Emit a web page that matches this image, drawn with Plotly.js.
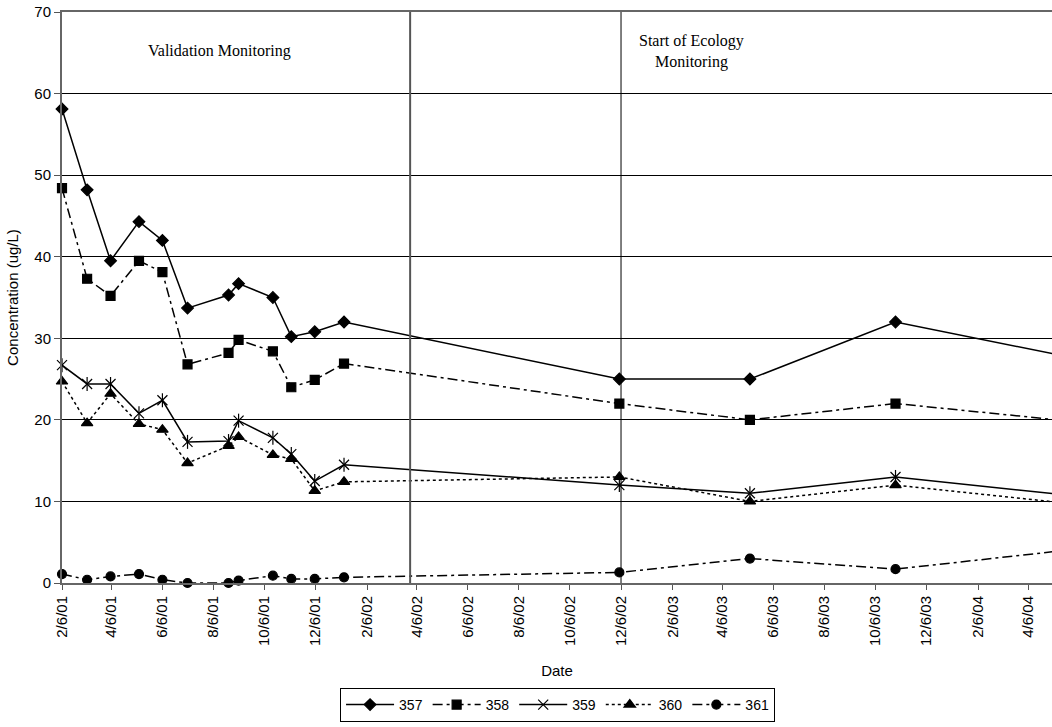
<!DOCTYPE html>
<html>
<head>
<meta charset="utf-8">
<script src="https://cdn.plot.ly/plotly-3.0.1.min.js"></script>
<style>
  html, body { margin: 0; padding: 0; background: #fff; }
  #chart { width: 1052px; height: 727px; }
</style>
</head>
<body>
<div id="chart"></div>
<script>
// Sampling dates (the last one lies just past the right edge of the axis)
const dates = ['2001-02-06','2001-03-08','2001-04-05','2001-05-09','2001-06-06','2001-07-06',
               '2001-08-24','2001-09-05','2001-10-16','2001-11-07','2001-12-05','2002-01-09',
               '2002-12-04','2003-05-09','2003-10-30','2004-05-20'];

const s357 = [58.1, 48.2, 39.5, 44.3, 42.0, 33.7, 35.3, 36.7, 35.0, 30.2, 30.8, 32.0, 25, 25, 32, 27.8];
const s358 = [48.4, 37.3, 35.2, 39.5, 38.1, 26.8, 28.2, 29.8, 28.4, 24.0, 24.9, 26.9, 22, 20, 22, 19.9];
const s359 = [26.7, 24.4, 24.4, 20.8, 22.4, 17.3, 17.4, 19.9, 17.8, 15.8, 12.5, 14.5, 12, 11, 13, 10.8];
const s360 = [24.7, 19.6, 23.2, 19.5, 18.8, 14.7, 16.8, 17.9, 15.7, 15.2, 11.3, 12.4, 13, 10, 12, 9.8];
const s361 = [1.1, 0.4, 0.8, 1.1, 0.4, 0.0, 0.0, 0.3, 0.9, 0.5, 0.5, 0.7, 1.3, 3.0, 1.7, 4.0];

const seriesNames = ['357', '358', '359', '360', '361'];

// Event markers
const eventDates = ['2002-03-29', '2002-12-06'];
const eventLabels = ['Validation Monitoring', 'Start of Ecology<br>Monitoring'];
const eventLabelX = ['2001-08-13', '2003-02-28'];

const SANS = 'Liberation Sans, Arial, sans-serif';
const SERIF = 'Liberation Serif, Times New Roman, serif';

function tr(name, y, dash, symbol, msize) {
  return {
    type: 'scatter', mode: 'lines+markers', name: name,
    x: dates, y: y, cliponaxis: false,
    line: { color: '#000', width: 1.5, dash: dash },
    marker: { symbol: symbol, size: msize, color: '#000', line: { color: '#000', width: 1.2 } }
  };
}

const data = [
  tr(seriesNames[0], s357, 'solid', 'diamond', 9),
  tr(seriesNames[1], s358, '10px,4px,3px,4px', 'square', 9),
  tr(seriesNames[2], s359, 'solid', 'x-thin-open', 10),
  tr(seriesNames[3], s360, '3px,3px', 'triangle-up', 10),
  tr(seriesNames[4], s361, '10px,4px,3px,4px', 'circle', 9),
  // vertical bar of the 359 star marker
  { type: 'scatter', mode: 'markers', x: dates, y: s359, showlegend: false, cliponaxis: false,
    hoverinfo: 'skip',
    marker: { symbol: 'line-ns-open', size: 10, color: '#000', line: { color: '#000', width: 1.2 } } }
];

const shapes = [
  { type: 'line', xref: 'x', yref: 'paper', x0: eventDates[0], x1: eventDates[0], y0: 0, y1: 1,
    line: { color: '#555', width: 2 } },
  { type: 'line', xref: 'x', yref: 'paper', x0: eventDates[1], x1: eventDates[1], y0: 0, y1: 1,
    line: { color: '#000', width: 1 } }
];

const annotations = [
  { x: eventLabelX[0], y: 65.2, xref: 'x', yref: 'y', text: eventLabels[0], showarrow: false,
    font: { family: SERIF, size: 16, color: '#000' } },
  { x: eventLabelX[1], y: 65.2, xref: 'x', yref: 'y', text: eventLabels[1], showarrow: false,
    font: { family: SERIF, size: 16, color: '#000' } }
];

const layout = {
  width: 1052, height: 727,
  paper_bgcolor: '#fff', plot_bgcolor: '#fff',
  margin: { l: 62, r: 0, t: 12, b: 144 },
  font: { family: SANS, size: 15, color: '#000' },
  showlegend: true,
  legend: {
    orientation: 'h', xref: 'container', yref: 'container',
    x: 0.53, xanchor: 'center', y: 1 - 688 / 727, yanchor: 'top',
    bordercolor: '#000', borderwidth: 1, bgcolor: '#fff',
    font: { family: SANS, size: 14, color: '#000' },
    itemwidth: 48, tracegroupgap: 0
  },
  xaxis: {
    type: 'date',
    range: ['2001-02-06', '2004-05-04'],
    tick0: '2001-02-06', dtick: 'M2',
    tickformat: '%-m/%-d/%y', tickangle: -90,
    ticks: 'outside', ticklen: 5, tickcolor: '#555', tickwidth: 1,
    showgrid: false, zeroline: false,
    showline: true, linecolor: '#666', linewidth: 2, mirror: true,
    tickfont: { family: SANS, size: 15, color: '#000' },
    title: { text: 'Date', standoff: 20, font: { family: SANS, size: 15, color: '#000' } }
  },
  yaxis: {
    range: [0, 70], dtick: 10,
    ticks: 'outside', ticklen: 6, tickcolor: '#555', tickwidth: 1,
    showgrid: true, gridcolor: '#000', gridwidth: 1,
    zeroline: false,
    showline: true, linecolor: '#666', linewidth: 2,
    tickfont: { family: SANS, size: 15, color: '#000' },
    title: { text: 'Concentration (ug/L)', standoff: 12, font: { family: SANS, size: 15, color: '#000' } }
  },
  shapes: shapes,
  annotations: annotations
};

Plotly.newPlot('chart', data, layout, { displayModeBar: false, staticPlot: true });
</script>
</body>
</html>
